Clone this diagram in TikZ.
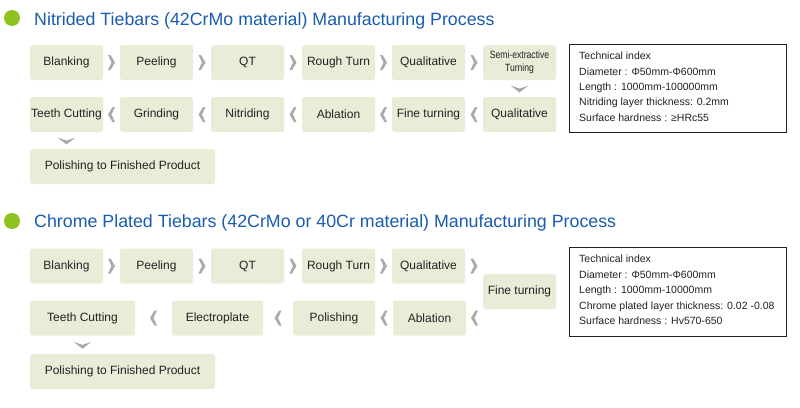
\documentclass[tikz,border=0pt]{standalone}
\usepackage{fontspec}
\setmainfont{Liberation Sans}
\usetikzlibrary{calc}
\definecolor{boxfill}{RGB}{232,237,216}
\definecolor{chevgray}{RGB}{170,170,170}
\definecolor{titleblue}{RGB}{26,92,176}
\definecolor{dotgreen}{RGB}{141,194,31}
\definecolor{txt}{RGB}{34,34,34}
\newcommand{\chevR}[2]{\coordinate (cm) at ($(#1.east)!0.5!(#2.west)$);
  \fill[chev] (cm |- #1) ++(-3.5,-7.5) -- ++(2.5,0) -- ++(4.5,7.5) -- ++(-4.5,7.5) -- ++(-2.5,0) -- ++(3.5,-7.5) -- cycle;}
\newcommand{\chevL}[2]{\coordinate (cm) at ($(#1.west)!0.5!(#2.east)$);
  \fill[chev] (cm |- #1) ++(3.5,-7.5) -- ++(-2.5,0) -- ++(-4.5,7.5) -- ++(4.5,7.5) -- ++(2.5,0) -- ++(-3.5,-7.5) -- cycle;}
\newcommand{\chevD}[2]{\coordinate (cm) at ($(#1.south)!0.5!(#2.north)$);
  \fill[chev] (#1 |- cm) ++(-9,-3) -- ++(9,3) -- ++(9,-3) -- ++(-9,7) -- cycle;}
\begin{document}
\begin{tikzpicture}[x=1pt,y=-1pt,
  stepbox/.style={fill=boxfill, rounded corners=2.5pt, inner sep=0pt, minimum height=35pt, minimum width=73pt, text=txt, font=\fontsize{12}{14}\selectfont},
  chev/.style={fill=chevgray},
  title/.style={anchor=base west, inner sep=0pt, text=titleblue, font=\fontsize{17.8}{20}\selectfont},
  techbox/.style={draw=txt, line width=1.3pt, anchor=north west, minimum width=217pt, inner sep=0pt},
  techline/.style={anchor=base west, inner sep=0pt, text=txt, font=\fontsize{10.5}{12}\selectfont}]
\useasboundingbox[fill=white] (0,0) rectangle (800,407);

% ---------- Section 1 ----------
\fill[dotgreen] (12,18) circle (8);
\node[title] (t1) at (34,25) {Nitrided Tiebars (42CrMo material) Manufacturing Process};

\node[stepbox] (a1) at (66.5,62.5) {Blanking};
\node[stepbox] (a2) at (156.5,62.5) {Peeling};
\node[stepbox] (a3) at (247.5,62.5) {QT};
\node[stepbox] (a4) at (338.5,62.5) {Rough Turn};
\node[stepbox] (a5) at (428.5,62.5) {Qualitative};
\node[stepbox, align=center, font=\fontsize{10.5}{13.5}\selectfont] (a6) at (519.5,62.5) {\scalebox{0.82}[1]{Semi-extractive}\\\scalebox{0.82}[1]{Turning}};
\node[stepbox] (b6) at (519.5,114.5) {Qualitative};
\node[stepbox] (b5) at (428.5,114.5) {Fine turning};
\node[stepbox] (b4) at (338.5,114.5) {Ablation};
\node[stepbox] (b3) at (247.5,114.5) {Nitriding};
\node[stepbox] (b2) at (156.5,114.5) {Grinding};
\node[stepbox] (b1) at (66.5,114.5) {Teeth Cutting};
\node[stepbox, minimum width=185pt] (c1) at (122.5,166.5) {Polishing to Finished Product};

\chevR{a1}{a2}\chevR{a2}{a3}\chevR{a3}{a4}\chevR{a4}{a5}\chevR{a5}{a6}
\chevD{a6}{b6}
\chevL{b6}{b5}\chevL{b5}{b4}\chevL{b4}{b3}\chevL{b3}{b2}\chevL{b2}{b1}
\chevD{b1}{c1}

\node[techbox, minimum height=88pt] (k1) at (569,44) {};
\node[techline] at (579,59) {Technical index};
\node[techline] at (579,75) {Diameter : Φ50mm-Φ600mm};
\node[techline] at (579,90) {Length : 1000mm-100000mm};
\node[techline] at (579,105.5) {Nitriding layer thickness: 0.2mm};
\node[techline] at (579,121) {Surface hardness : ≥HRc55};

% ---------- Section 2 ----------
\fill[dotgreen] (12,221) circle (8);
\node[title] (t2) at (34,227) {Chrome Plated Tiebars (42CrMo or 40Cr material) Manufacturing Process};

\node[stepbox] (d1) at (66.5,266) {Blanking};
\node[stepbox] (d2) at (156.5,266) {Peeling};
\node[stepbox] (d3) at (247.5,266) {QT};
\node[stepbox] (d4) at (338.5,266) {Rough Turn};
\node[stepbox] (d5) at (428.5,266) {Qualitative};
\node[stepbox] (d6) at (519.5,291.5) {Fine turning};
\node[stepbox] (e4) at (429.5,318) {Ablation};
\node[stepbox, minimum width=82pt] (e3) at (334,318) {Polishing};
\node[stepbox, minimum width=91pt] (e2) at (217.5,318) {Electroplate};
\node[stepbox, minimum width=105pt] (e1) at (82.5,318) {Teeth Cutting};
\node[stepbox, minimum width=185pt] (f1) at (122.5,371.5) {Polishing to Finished Product};

\chevR{d1}{d2}\chevR{d2}{d3}\chevR{d3}{d4}\chevR{d4}{d5}\chevR{d5}{d6}
\chevL{e4}{d6}
\chevL{e4}{e3}\chevL{e3}{e2}\chevL{e2}{e1}
\chevD{e1}{f1}

\node[techbox, minimum height=89pt] (k2) at (569,247) {};
\node[techline] at (579,262) {Technical index};
\node[techline] at (579,278) {Diameter : Φ50mm-Φ600mm};
\node[techline] at (579,293.5) {Length : 1000mm-10000mm};
\node[techline] at (579,309) {Chrome plated layer thickness: 0.02 -0.08};
\node[techline] at (579,324) {Surface hardness : Hv570-650};
\end{tikzpicture}
\end{document}
